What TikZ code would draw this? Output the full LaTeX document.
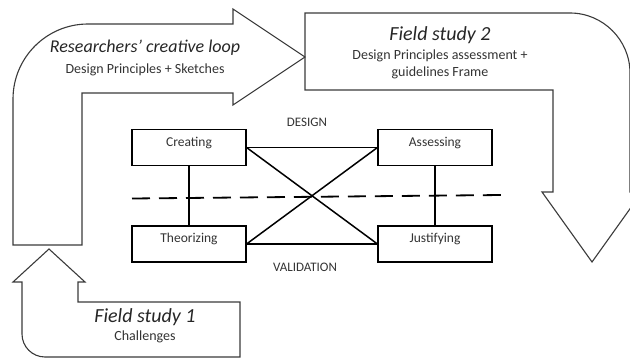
\documentclass[tikz,border=0pt]{standalone}
\usepackage{fontspec}
\setmainfont{Carlito}
\definecolor{outl}{HTML}{3A3A3A}
\definecolor{txt}{HTML}{333333}
\begin{document}
\begin{tikzpicture}[x=1pt,y=-1pt,
  shapeline/.style={draw=outl,line width=1.1pt,line join=miter},
  stagebox/.style={draw=black,line width=1.1pt,minimum width=114pt,minimum height=36pt,inner sep=0pt,text height=9pt,text depth=11pt,font=\fontsize{13.5}{15}\selectfont,text=txt},
  link/.style={draw=black,line width=1.5pt},
  title/.style={font=\fontsize{20}{22}\itshape\selectfont,text=black!85,inner sep=0pt},
  sub/.style={font=\fontsize{14}{16}\selectfont,text=txt,inner sep=0pt,align=center},
  axis/.style={font=\fontsize{13}{15}\selectfont,text=txt,inner sep=0pt}]
\clip (0,0) rectangle (630,358);
% big loop arrow
\draw[shapeline] (305,57) -- (233,105) -- (233,93) -- (82,93) -- (82,245) -- (13,245) -- (13,99)
  .. controls (13,57.6) and (46.6,24) .. (88,24) -- (233,24) -- (233,9) -- cycle;
% field study 2 arrow
\draw[shapeline] (305,13) -- (570,13) .. controls (603,13) and (630,40) .. (630,73) -- (630,192)
  -- (642,192) -- (592,262) -- (542,192) -- (553,192) -- (553,90) -- (305,90) -- cycle;
% field study 1 arrow
\draw[shapeline] (49,249) -- (85,282) -- (78,282) -- (78,302) -- (240,302) -- (240,357) -- (45,357)
  .. controls (32.3,357) and (22,346.7) .. (22,334) -- (22,282) -- (13,282) -- cycle;
% texts
\node[title,font=\fontsize{18}{20}\itshape\selectfont] (t1) at (145,48) {Researchers’ creative loop};
\node[sub] (s1) at (145,70) {Design Principles + Sketches};
\node[title] (t2) at (440,35) {Field study 2};
\node[sub] (s2) at (440,56) {Design Principles assessment +};
\node[sub] (s3) at (440,73) {guidelines Frame};
\node[title] (t3) at (145,317) {Field study 1};
\node[sub] (s4) at (145,337) {Challenges};
% stage boxes
\node[stagebox] (cre) at (189,147.5) {Creating};
\node[stagebox] (ass) at (435,147.5) {Assessing};
\node[stagebox] (the) at (189,244) {Theorizing};
\node[stagebox] (jus) at (435,244) {Justifying};
\node[axis] (des) at (307,122) {DESIGN};
\node[axis] (val) at (305,267) {VALIDATION};
% links
\draw[link] (cre.east) -- (ass.west);
\draw[link] (the.east) -- (jus.west);
\draw[link] (cre.east) -- (jus.west);
\draw[link] (the.east) -- (ass.west);
\draw[link,line width=1.2pt] (cre.south) -- (the.north);
\draw[link,line width=1.2pt] (ass.south) -- (jus.north);
% dashed divider
\coordinate (dl) at (132,198.5);
\coordinate (dr) at (503,195);
\draw[black,line width=1.8pt,dash pattern=on 18pt off 9pt] (dl) -- (dr);
\end{tikzpicture}
\end{document}
